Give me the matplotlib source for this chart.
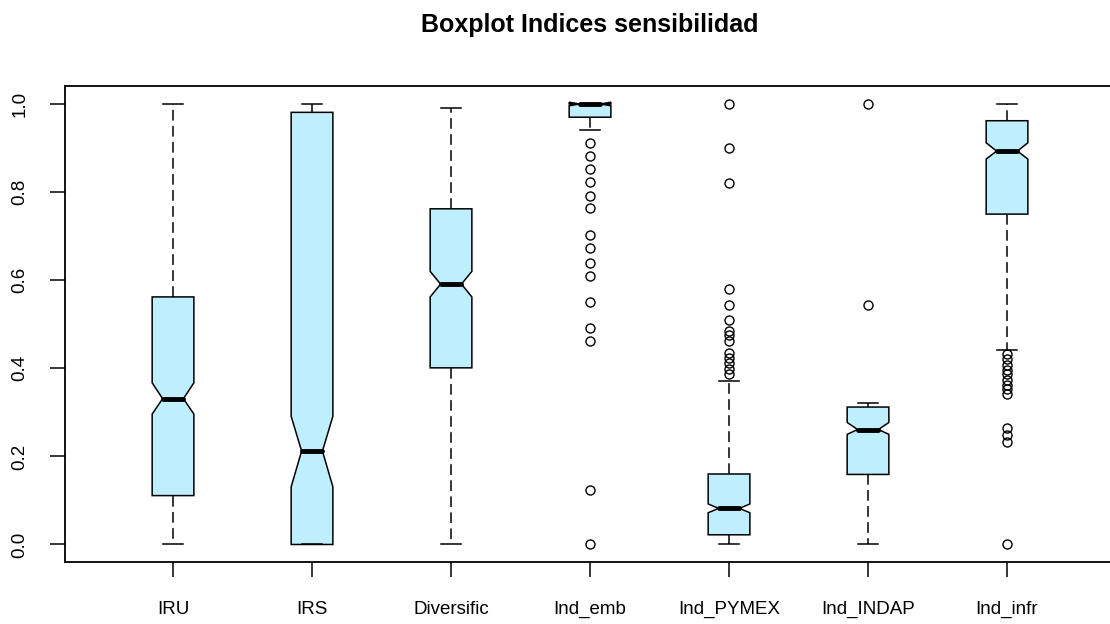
import matplotlib.pyplot as plt

plt.rcParams['font.family'] = ['Liberation Sans', 'DejaVu Sans']

# notched boxplot of seven sensitivity indices
labels = ["IRU", "IRS", "Diversific", "Ind_emb", "Ind_PYMEX", "Ind_INDAP", "Ind_infr"]
q1 = [0.111, 0.0, 0.401, 0.970, 0.022, 0.159, 0.750]
med = [0.331, 0.212, 0.591, 1.0, 0.082, 0.261, 0.893]
q3 = [0.562, 0.981, 0.762, 1.0, 0.160, 0.312, 0.962]
ci_lo = [0.296, 0.131, 0.562, 0.996, 0.072, 0.250, 0.875]
ci_hi = [0.367, 0.291, 0.620, 1.004, 0.092, 0.277, 0.912]
whis_lo = [0.0, 0.0, 0.0, 0.940, 0.0, 0.0, 0.442]
whis_hi = [1.0, 1.0, 0.992, 1.0, 0.371, 0.321, 1.0]
outliers = [
    [],
    [],
    [],
    [0.912, 0.882, 0.852, 0.822, 0.792, 0.763, 0.703, 0.673, 0.640, 0.610,
     0.550, 0.491, 0.462, 0.123, 0.0],
    [1.0, 0.899, 0.821, 0.580, 0.543, 0.510, 0.484, 0.476, 0.463, 0.435,
     0.423, 0.412, 0.399, 0.388],
    [1.0, 0.543],
    [0.433, 0.420, 0.408, 0.397, 0.386, 0.374, 0.363, 0.352, 0.342,
     0.265, 0.249, 0.232, 0.0],
]

stats = []
for i, name in enumerate(labels):
    stats.append(dict(label=name, q1=q1[i], med=med[i], q3=q3[i],
                      cilo=ci_lo[i], cihi=ci_hi[i],
                      whislo=whis_lo[i], whishi=whis_hi[i],
                      fliers=outliers[i]))

fig = plt.figure(figsize=(11.1, 6.24), dpi=100)
ax = fig.add_axes([0.0582, 0.0992, 0.9467, 0.7624])

ax.bxp(stats, positions=range(1, len(labels) + 1), widths=0.3, shownotches=True,
       patch_artist=True,
       boxprops=dict(facecolor='#BFEFFF', edgecolor='black', linewidth=1.1),
       medianprops=dict(color='black', linewidth=3.5, solid_capstyle='round'),
       whiskerprops=dict(color='black', linewidth=1.1, linestyle=(0, (7, 3.5))),
       capprops=dict(color='black', linewidth=1.1),
       flierprops=dict(marker='o', markerfacecolor='none', markeredgecolor='black',
                       markersize=6.5, markeredgewidth=1.0))

ax.set_xlim(0.22, 7.78)
ax.set_ylim(-0.04, 1.04)
ax.set_yticks([0.0, 0.2, 0.4, 0.6, 0.8, 1.0])
ax.set_yticklabels(["0.0", "0.2", "0.4", "0.6", "0.8", "1.0"], rotation=90, va='center')
ax.set_xticks(range(1, len(labels) + 1))
ax.set_xticklabels(labels)
ax.tick_params(axis='both', length=11, width=1.1, labelsize=13.5, colors='black')
ax.tick_params(axis='y', pad=15)
ax.tick_params(axis='x', pad=17)
for sp in ax.spines.values():
    sp.set_linewidth(1.3)

fig.text(0.0582 + 0.9467 / 2, 1 - 31.7 / 624, "Boxplot Indices sensibilidad",
         ha='center', va='baseline', fontsize=18, fontweight='bold')

fig.savefig("out.png", dpi=100)
